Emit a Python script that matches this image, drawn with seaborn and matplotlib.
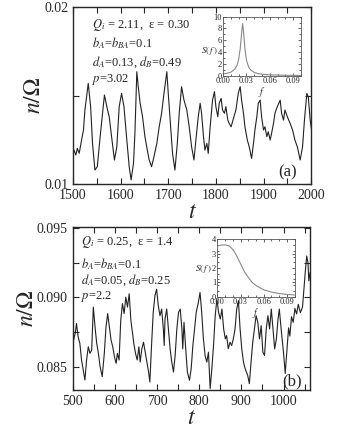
import numpy as np
import pandas as pd
import matplotlib
matplotlib.use("Agg")
import matplotlib.pyplot as plt
import seaborn as sns
from matplotlib.ticker import MultipleLocator, FormatStrFormatter

# ---- panel (a): time series ----
t_a = [1502, 1506, 1509, 1513, 1518, 1522, 1525, 1532, 1537, 1541, 1546, 1551,
       1557, 1562, 1566, 1571, 1576, 1581, 1587, 1592, 1597, 1602, 1607, 1613,
       1618, 1622, 1627, 1630, 1634, 1637, 1641, 1646, 1651, 1656, 1660, 1665,
       1670, 1676, 1681, 1686, 1691, 1697, 1700, 1705, 1709, 1714, 1719, 1723,
       1728, 1733, 1739, 1744, 1749, 1754, 1758, 1763, 1767, 1770, 1774, 1777,
       1781, 1784, 1788, 1793, 1797, 1800, 1804, 1807, 1811, 1814, 1818, 1821,
       1825, 1828, 1832, 1837, 1842, 1847, 1851, 1854, 1858, 1861, 1866, 1870,
       1875, 1879, 1882, 1886, 1889, 1893, 1896, 1900, 1903, 1907, 1910, 1914,
       1917, 1921, 1924, 1929, 1935, 1938, 1942, 1945, 1950, 1956, 1961, 1966,
       1971, 1977, 1982, 1986, 1991, 1994, 1998, 2001]
n_a = [0.01192, 0.01164, 0.01202, 0.01174, 0.01249, 0.01306, 0.01419, 0.01570,
       0.01438, 0.01230, 0.01079, 0.01098, 0.01268, 0.01400, 0.01504, 0.01438,
       0.01381, 0.01268, 0.01136, 0.01211, 0.01438, 0.01513, 0.01438, 0.01249,
       0.01098, 0.01023, 0.01117, 0.01287, 0.01636, 0.01551, 0.01457, 0.01381,
       0.01268, 0.01192, 0.01136, 0.01098, 0.01155, 0.01230, 0.01324, 0.01400,
       0.01513, 0.01636, 0.01513, 0.01324, 0.01174, 0.01079, 0.01230, 0.01400,
       0.01551, 0.01475, 0.01419, 0.01324, 0.01211, 0.01136, 0.01249, 0.01381,
       0.01457, 0.01400, 0.01268, 0.01192, 0.01230, 0.01174, 0.01324, 0.01475,
       0.01523, 0.01438, 0.01381, 0.01457, 0.01485, 0.01419, 0.01400, 0.01438,
       0.01362, 0.01343, 0.01324, 0.01372, 0.01419, 0.01513, 0.01551, 0.01475,
       0.01400, 0.01324, 0.01249, 0.01211, 0.01145, 0.01230, 0.01306, 0.01381,
       0.01457, 0.01475, 0.01381, 0.01306, 0.01324, 0.01268, 0.01296, 0.01249,
       0.01287, 0.01343, 0.01400, 0.01438, 0.01475, 0.01400, 0.01362, 0.01419,
       0.01381, 0.01343, 0.01306, 0.01249, 0.01211, 0.01136, 0.01211, 0.01362,
       0.01513, 0.01494, 0.01362, 0.01306]

# ---- panel (b): time series ----
t_b = [502, 506, 509, 513, 517, 521, 525, 529, 533, 537, 541, 545, 549, 553,
       557, 561, 565, 570, 575, 579, 583, 587, 591, 595, 599, 603, 606, 610,
       614, 618, 622, 626, 630, 634, 638, 642, 645, 649, 653, 657, 660, 664,
       668, 672, 676, 680, 683, 687, 691, 695, 699, 703, 707, 711, 715, 717,
       719, 723, 727, 731, 735, 739, 743, 747, 751, 755, 759, 761, 764, 768,
       772, 777, 781, 785, 789, 793, 798, 802, 806, 810, 814, 818, 822, 826,
       830, 834, 838, 842, 846, 850, 854, 858, 862, 865, 869, 873, 877, 881,
       885, 889, 893, 897, 901, 905, 909, 915, 919, 923, 927, 931, 935, 939,
       943, 947, 951, 955, 959, 963, 967, 971, 975, 979, 983, 987, 990, 995,
       1000, 1004, 1008, 1012, 1015, 1019, 1023, 1027, 1031, 1035, 1040, 1045,
       1048, 1052, 1055, 1058, 1060, 1063]
n_b = [0.08691, 0.08739, 0.08811, 0.08715, 0.08667, 0.08547, 0.08475, 0.08403,
       0.08547, 0.08643, 0.08595, 0.08619, 0.08930, 0.08786, 0.08667, 0.08595,
       0.08499, 0.08427, 0.08595, 0.08786, 0.08883, 0.08786, 0.08691, 0.08643,
       0.08571, 0.08523, 0.08595, 0.08547, 0.08835, 0.08955, 0.08883, 0.09002,
       0.08930, 0.09027, 0.08835, 0.08739, 0.08667, 0.08595, 0.08547, 0.08643,
       0.08532, 0.08628, 0.08676, 0.08604, 0.08532, 0.08460, 0.08388, 0.08652,
       0.08892, 0.09012, 0.09060, 0.08940, 0.08868, 0.08916, 0.08772, 0.08652,
       0.08844, 0.08916, 0.08772, 0.08628, 0.08532, 0.08460, 0.08580, 0.08772,
       0.08892, 0.08916, 0.08772, 0.08628, 0.08820, 0.08628, 0.08460, 0.08400,
       0.08484, 0.08652, 0.08772, 0.08892, 0.08964, 0.09036, 0.08892, 0.08700,
       0.08580, 0.08532, 0.08604, 0.08340, 0.08484, 0.08652, 0.08868, 0.08988,
       0.08892, 0.08844, 0.08916, 0.08772, 0.08700, 0.08724, 0.08628, 0.08676,
       0.08652, 0.08700, 0.08772, 0.08916, 0.08976, 0.08772, 0.08628, 0.08532,
       0.08484, 0.08436, 0.08376, 0.08532, 0.08676, 0.08772, 0.08868, 0.08820,
       0.08700, 0.08796, 0.08604, 0.08580, 0.08772, 0.08868, 0.08772, 0.08916,
       0.08772, 0.08628, 0.08700, 0.08844, 0.08916, 0.08750, 0.08600, 0.08450,
       0.08620, 0.08780, 0.08720, 0.08860, 0.08820, 0.08920, 0.08880, 0.08950,
       0.08890, 0.08930, 0.09050, 0.09200, 0.09300, 0.09250, 0.09120, 0.09180]

# ---- insets: power spectra S(f) ----
f_a = [0.0, 0.005, 0.01, 0.015, 0.018, 0.02, 0.022, 0.024, 0.025, 0.026,
       0.028, 0.03, 0.033, 0.036, 0.04, 0.045, 0.05, 0.06, 0.07, 0.08, 0.09, 0.1]
s_a = [0.3, 0.4, 0.6, 1.1, 1.8, 2.8, 4.6, 7.6, 8.8, 7.8, 4.6, 2.6, 1.4, 0.9,
       0.55, 0.35, 0.25, 0.15, 0.1, 0.07, 0.05, 0.04]
f_b = [0.0, 0.005, 0.01, 0.015, 0.02, 0.025, 0.03, 0.035, 0.04, 0.045, 0.05,
       0.06, 0.07, 0.08, 0.09, 0.1]
s_b = [3.55, 3.6, 3.62, 3.55, 3.3, 2.85, 2.3, 1.75, 1.35, 1.0, 0.78, 0.48,
       0.32, 0.22, 0.16, 0.12]

sns.set_style("ticks")
plt.rcParams['font.family'] = ['Liberation Serif', 'DejaVu Serif']
plt.rcParams['mathtext.fontset'] = 'stix'

fig = plt.figure(figsize=(3.57, 4.34), dpi=100)
ax_a = fig.add_axes([0.2045, 0.576, 0.667, 0.407])
ax_b = fig.add_axes([0.2036, 0.1014, 0.665, 0.3756])

sns.lineplot(x=t_a, y=n_a, ax=ax_a, color='#222222', lw=0.8)
sns.lineplot(x=t_b, y=n_b, ax=ax_b, color='#222222', lw=0.8)

ax_a.set_xlim(1500, 2000)
ax_a.set_ylim(0.01, 0.02)
ax_a.xaxis.set_major_locator(MultipleLocator(100))
ax_a.xaxis.set_minor_locator(MultipleLocator(50))
ax_a.yaxis.set_major_locator(MultipleLocator(0.01))
ax_a.yaxis.set_minor_locator(MultipleLocator(0.005))
ax_a.yaxis.set_major_formatter(FormatStrFormatter('%.2f'))

ax_b.set_xlim(500, 1063)
ax_b.set_ylim(0.0833, 0.0951)
ax_b.xaxis.set_major_locator(MultipleLocator(100))
ax_b.xaxis.set_minor_locator(MultipleLocator(50))
ax_b.yaxis.set_major_locator(MultipleLocator(0.005))
ax_b.yaxis.set_minor_locator(MultipleLocator(0.0025))
ax_b.yaxis.set_major_formatter(FormatStrFormatter('%.3f'))

for ax in (ax_a, ax_b):
    ax.tick_params(which='both', direction='in', top=True, right=True,
                   labelsize=10, width=0.8, length=4)
    for s in ax.spines.values():
        s.set_linewidth(1.0)
    ax.set_xlabel('$t$', fontsize=17, labelpad=0)
    ax.set_ylabel(r'$n/\Omega$', fontsize=17, labelpad=-1)

txt = dict(fontsize=9, va='center')
ax_a.text(0.08, 0.90, r'$Q_i$ = 2.11,  ε = 0.30', transform=ax_a.transAxes, **txt)
ax_a.text(0.08, 0.80, r'$b_A$=$b_{BA}$=0.1', transform=ax_a.transAxes, **txt)
ax_a.text(0.08, 0.69, r'$d_A$=0.13, $d_B$=0.49', transform=ax_a.transAxes, **txt)
ax_a.text(0.08, 0.59, r'$p$=3.02', transform=ax_a.transAxes, **txt)
ax_a.text(0.90, 0.065, '(a)', transform=ax_a.transAxes, fontsize=12, ha='center', va='center')

ax_b.text(0.035, 0.908, r'$Q_i$ = 0.25,  ε = 1.4', transform=ax_b.transAxes, **txt)
ax_b.text(0.035, 0.775, r'$b_A$=$b_{BA}$=0.1', transform=ax_b.transAxes, **txt)
ax_b.text(0.035, 0.673, r'$d_A$=0.05, $d_B$=0.25', transform=ax_b.transAxes, **txt)
ax_b.text(0.035, 0.571, r'$p$=2.2', transform=ax_b.transAxes, **txt)
ax_b.text(0.925, 0.05, '(b)', transform=ax_b.transAxes, fontsize=12, ha='center', va='center')

# insets
in_a = fig.add_axes([0.625, 0.8256, 0.218, 0.136], facecolor='white', zorder=5)
in_b = fig.add_axes([0.609, 0.3164, 0.216, 0.132], facecolor='white', zorder=5)
sns.lineplot(x=f_a, y=s_a, ax=in_a, color='#888888', lw=0.8)
sns.lineplot(x=f_b, y=s_b, ax=in_b, color='#888888', lw=0.8)
in_a.set_ylim(0, 10)
in_a.yaxis.set_major_locator(MultipleLocator(2))
in_b.set_ylim(0, 4)
in_b.yaxis.set_major_locator(MultipleLocator(1))
for ax, ylab_y in ((in_a, 4.2), (in_b, 1.9)):
    ax.set_xlim(0, 0.1)
    ax.xaxis.set_major_locator(MultipleLocator(0.03))
    ax.xaxis.set_minor_locator(MultipleLocator(0.01))
    ax.xaxis.set_major_formatter(FormatStrFormatter('%.2f'))
    ax.yaxis.set_minor_locator(MultipleLocator(ax.get_ylim()[1] / 10))
    ax.tick_params(which='both', direction='in', top=True, right=True,
                   labelsize=6, length=2, width=0.5, pad=1)
    ax.tick_params(which='minor', length=1.2)
    for s in ax.spines.values():
        s.set_linewidth(0.6)
        s.set_color('#555555')
    ax.set_xlabel('$f$', fontsize=7, labelpad=0)
    ax.set_ylabel('')
    ax.text(-0.07, ylab_y, '$S(\\,f\\,)$', fontsize=6.5, ha='right', va='center',
            transform=ax.get_yaxis_transform())

fig.savefig('out.png', dpi=100)
